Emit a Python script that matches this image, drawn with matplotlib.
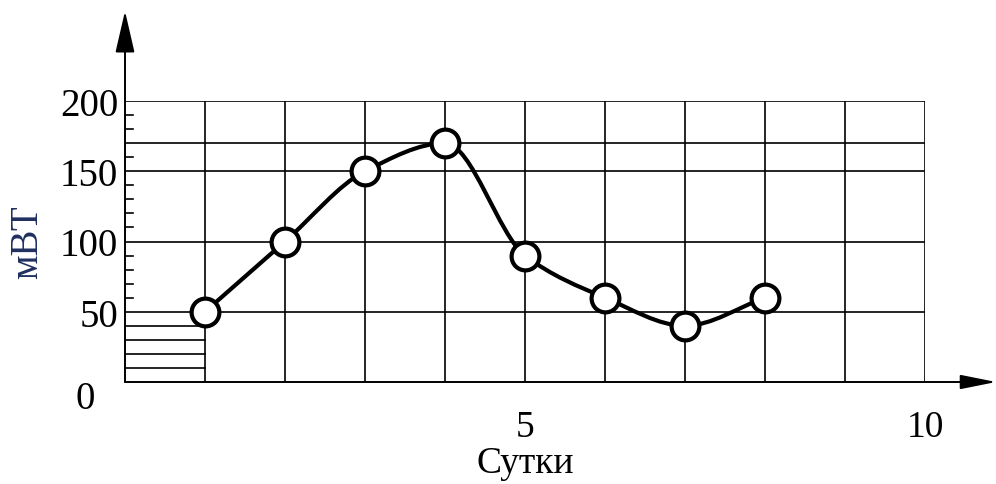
import matplotlib
matplotlib.use('Agg')
import matplotlib.pyplot as plt
from matplotlib.path import Path
from matplotlib.patches import PathPatch

days = [1, 2, 3, 4, 5, 6, 7, 8]
power = [50, 100, 150, 170, 90, 60, 40, 60]
y_ticks = [50, 100, 150, 200]
x_ticks = [5, 10]
x_label = 'Сутки'
y_label = 'мВТ'

plt.rcParams['font.family'] = ['Liberation Serif', 'DejaVu Serif']

fig = plt.figure(figsize=(9.96, 4.85), dpi=100)
ax = fig.add_axes([125/996, 102/485, 800/996, 281/485])
ax.set_xlim(0, 10)
ax.set_ylim(0, 200)
for s in ax.spines.values():
    s.set_visible(False)

# grid
for x in range(1, 11):
    ax.plot([x, x], [0, 200], color='black', lw=1.2, zorder=1)
for y in y_ticks + [170]:
    ax.plot([0, 10], [y, y], color='black', lw=1.2, zorder=1)
for y in [10, 20, 30, 40]:
    ax.plot([0, 1], [y, y], color='black', lw=1.2, zorder=1)
# small ticks on y axis
for y in range(10, 200, 10):
    if y in y_ticks or y in (10, 20, 30, 40, 170):
        continue
    ax.plot([0, 0.1], [y, y], color='black', lw=1.2, zorder=1)

# axis arrows
ax.annotate('', xy=(0, 1.32), xytext=(0, 0), xycoords='axes fraction',
            arrowprops=dict(arrowstyle='-|>,head_length=1.3,head_width=0.3', mutation_scale=20,
                            lw=1.4, color='black', shrinkA=0, shrinkB=0), annotation_clip=False)
ax.annotate('', xy=(1.089, 0), xytext=(0, 0), xycoords='axes fraction',
            arrowprops=dict(arrowstyle='-|>,head_length=1.1,head_width=0.22', mutation_scale=20,
                            lw=1.4, color='black', shrinkA=0, shrinkB=0), annotation_clip=False)

# smooth monotone curve through the points (cubic Bezier segments)
n = len(days)
slopes = [(power[i + 1] - power[i]) / (days[i + 1] - days[i]) for i in range(n - 1)]
tang = [slopes[0]]
for i in range(1, n - 1):
    a, b = slopes[i - 1], slopes[i]
    tang.append(0.0 if a * b <= 0 else 2 / (1 / a + 1 / b))
tang.append(slopes[-1])
verts = [(days[0], power[0])]
codes = [Path.MOVETO]
for i in range(n - 1):
    h = (days[i + 1] - days[i]) / 3
    verts += [(days[i] + h, power[i] + tang[i] * h),
              (days[i + 1] - h, power[i + 1] - tang[i + 1] * h),
              (days[i + 1], power[i + 1])]
    codes += [Path.CURVE4] * 3
ax.add_patch(PathPatch(Path(verts, codes), facecolor='none', edgecolor='black', lw=3, zorder=2))
ax.plot(days, power, 'o', ms=20, mfc='white', mec='black', mew=3, zorder=3)

# labels
ax.set_yticks(y_ticks)
ax.set_yticklabels([str(v) for v in y_ticks])
ax.set_xticks(x_ticks)
ax.set_xticklabels([str(v) for v in x_ticks])
ax.tick_params(axis='y', length=0, pad=5, labelsize=28)
ax.tick_params(axis='x', length=0, pad=20, labelsize=27)
ax.text(-0.5, -12, '0', fontsize=28, ha='center', va='center')
ax.set_xlabel(x_label, fontsize=27, labelpad=1)
ax.text(-1.22, 100, y_label, fontsize=28, rotation=90, ha='center', va='center', color='#1f3060')

fig.savefig('out.png', dpi=100)
